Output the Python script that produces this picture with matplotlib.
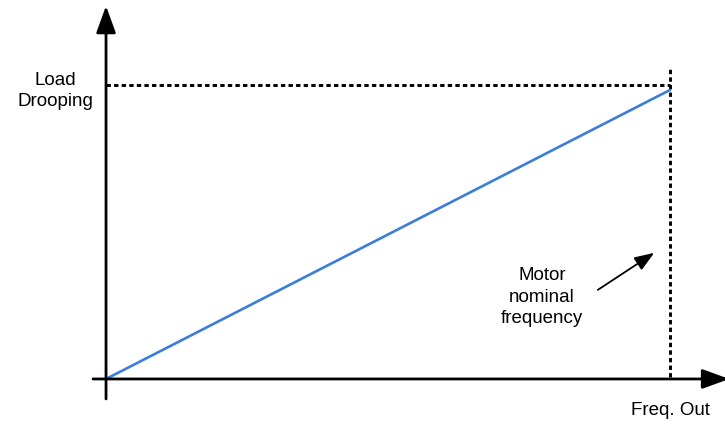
import matplotlib
matplotlib.use("Agg")
import matplotlib.pyplot as plt

plt.rcParams['font.family'] = ['Liberation Sans', 'DejaVu Sans']

# data: output frequency (% of nominal) vs load drooping (% of max)
freq = [0, 100]
droop = [0, 98.3]
droop_max = 100
freq_nom = 100


def main():
    fig = plt.figure(figsize=(7.25, 4.27), dpi=100)
    ax = fig.add_axes([0, 0, 1, 1])
    ax.set_xlim(-18.8, 109.75)
    ax.set_ylim(-16.0, 129.25)
    ax.axis('off')

    # axes with arrow heads
    head = '-|>,head_length=1.65,head_width=0.6'
    ax.annotate('', xy=(0, 126.9), xytext=(0, -6.8), annotation_clip=False,
                arrowprops=dict(arrowstyle=head, lw=2, color='black',
                                shrinkA=0, shrinkB=0))
    ax.annotate('', xy=(110.5, 0), xytext=(-2.3, 0), annotation_clip=False,
                arrowprops=dict(arrowstyle=head, lw=2, color='black',
                                shrinkA=0, shrinkB=0))

    # dashed guides
    dash = (0, (1.5, 1.1))
    ax.plot([0, freq_nom], [droop_max, droop_max], color='black',
            lw=2.1, linestyle=dash)
    ax.plot([freq_nom, freq_nom], [0.8, 105.5], color='black',
            lw=2.1, linestyle=dash)

    # characteristic
    ax.plot(freq, droop, color='#3B7DD8', lw=1.9, solid_capstyle='round')

    ax.text(-9.0, 98.4, 'Load\nDrooping', ha='center', va='center',
            fontsize=13.5, linespacing=1.3)
    ax.text(77.3, 28.2, 'Motor\nnominal\nfrequency', ha='center',
            va='center', fontsize=13.5, linespacing=1.35)
    ax.text(100, -10.5, 'Freq. Out', ha='center', va='center', fontsize=13.5)

    ax.annotate('', xy=(97.2, 42.9), xytext=(87.2, 30.3), annotation_clip=False,
                arrowprops=dict(arrowstyle='-|>,head_length=1.2,head_width=0.45',
                                lw=1.3, color='black', shrinkA=0, shrinkB=0))

    fig.savefig('out.png', dpi=100)


if __name__ == "__main__":
    main()
